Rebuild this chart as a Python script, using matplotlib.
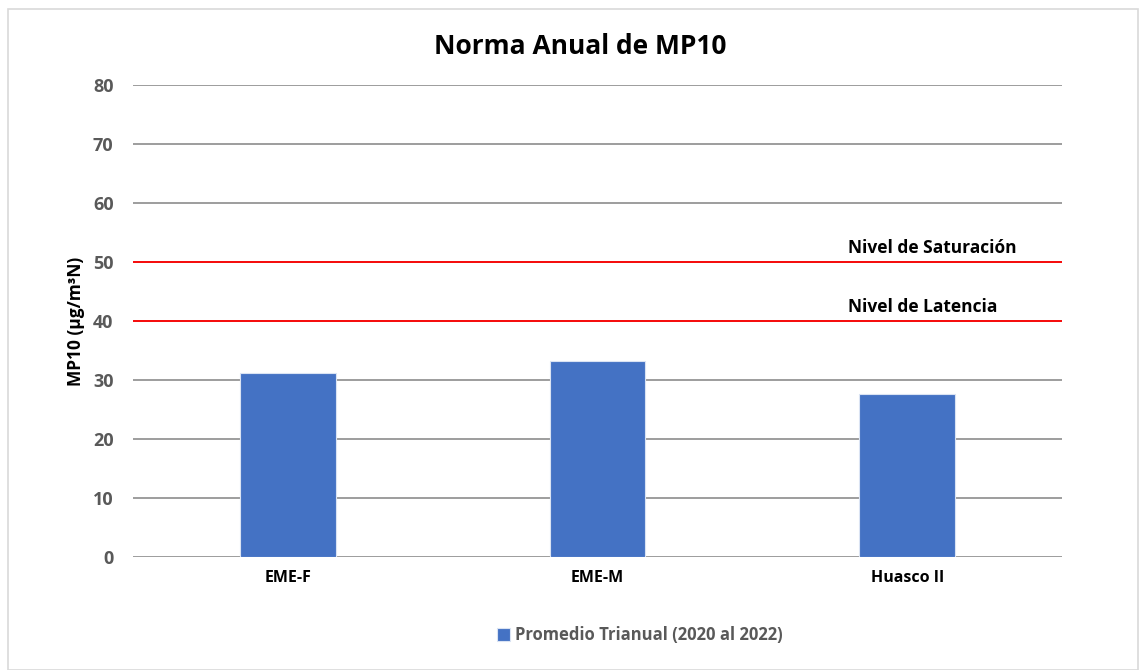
import matplotlib.pyplot as plt
from matplotlib.patches import Rectangle

estaciones = ["EME-F", "EME-M", "Huasco II"]
promedio = [31.2, 33.2, 27.6]
niveles = [50, 40]
niveles_txt = ["Nivel de Saturación", "Nivel de Latencia"]
yticks = [0, 10, 20, 30, 40, 50, 60, 70, 80]

plt.rcParams['font.family'] = ['Open Sans', 'DejaVu Sans']
gris = '#595959'
azul = '#4472C4'

fig = plt.figure(figsize=(11.4, 6.7), dpi=100)
fig.patches.append(Rectangle((8 / 1140, 0.0), 1130 / 1140, 1 - 9 / 670,
                             transform=fig.transFigure, fill=False,
                             edgecolor='#d9d9d9', linewidth=1.2))
ax = fig.add_axes([133 / 1140, 1 - 557 / 670, 929 / 1140, 472 / 670])

x = range(len(estaciones))
ax.bar(x, promedio, width=0.31, color=azul, edgecolor='#dae3f3', linewidth=0.8,
       zorder=3, label="Promedio Trianual (2020 al 2022)")
ax.set_xlim(-0.5, len(estaciones) - 0.5)
ax.set_ylim(0, 80)
ax.set_yticks(yticks)
ax.grid(axis='y', color='#8c8c8c', linewidth=1.2, zorder=0)
ax.set_axisbelow(True)

# lineas de norma
for nivel, txt in zip(niveles, niveles_txt):
    ax.axhline(nivel, color='#ff0000', linewidth=1.3, zorder=4)
    ax.text(1.81, nivel + 0.8, txt, fontsize=12.5, fontweight='bold', color='black',
            ha='left', va='bottom')

ax.set_xticks(list(x))
ax.set_xticklabels(estaciones, fontsize=11.5, fontweight='bold', color='black')
for lbl in ax.get_yticklabels():
    lbl.set_fontsize(13)
    lbl.set_fontweight('bold')
    lbl.set_color(gris)
ax.tick_params(axis='both', length=0)
ax.tick_params(axis='y', pad=14)
ax.tick_params(axis='x', pad=9)
for s in ax.spines.values():
    s.set_visible(False)

ax.set_ylabel("MP10 (µg/m³N)", fontsize=12.5, fontweight='bold', color='black', labelpad=6)
fig.text(580 / 1140, 1 - 47 / 670, "Norma Anual de MP10", ha='center', va='center',
         fontsize=19, fontweight='bold', color='black')

leg = fig.legend(loc='center', bbox_to_anchor=(0.561, 1 - 635 / 670), frameon=False,
                 handlelength=0.8, handleheight=0.8, handletextpad=0.3,
                 prop={'size': 12, 'weight': 'bold'})
for t in leg.get_texts():
    t.set_color(gris)

fig.savefig("out.png", dpi=100)
